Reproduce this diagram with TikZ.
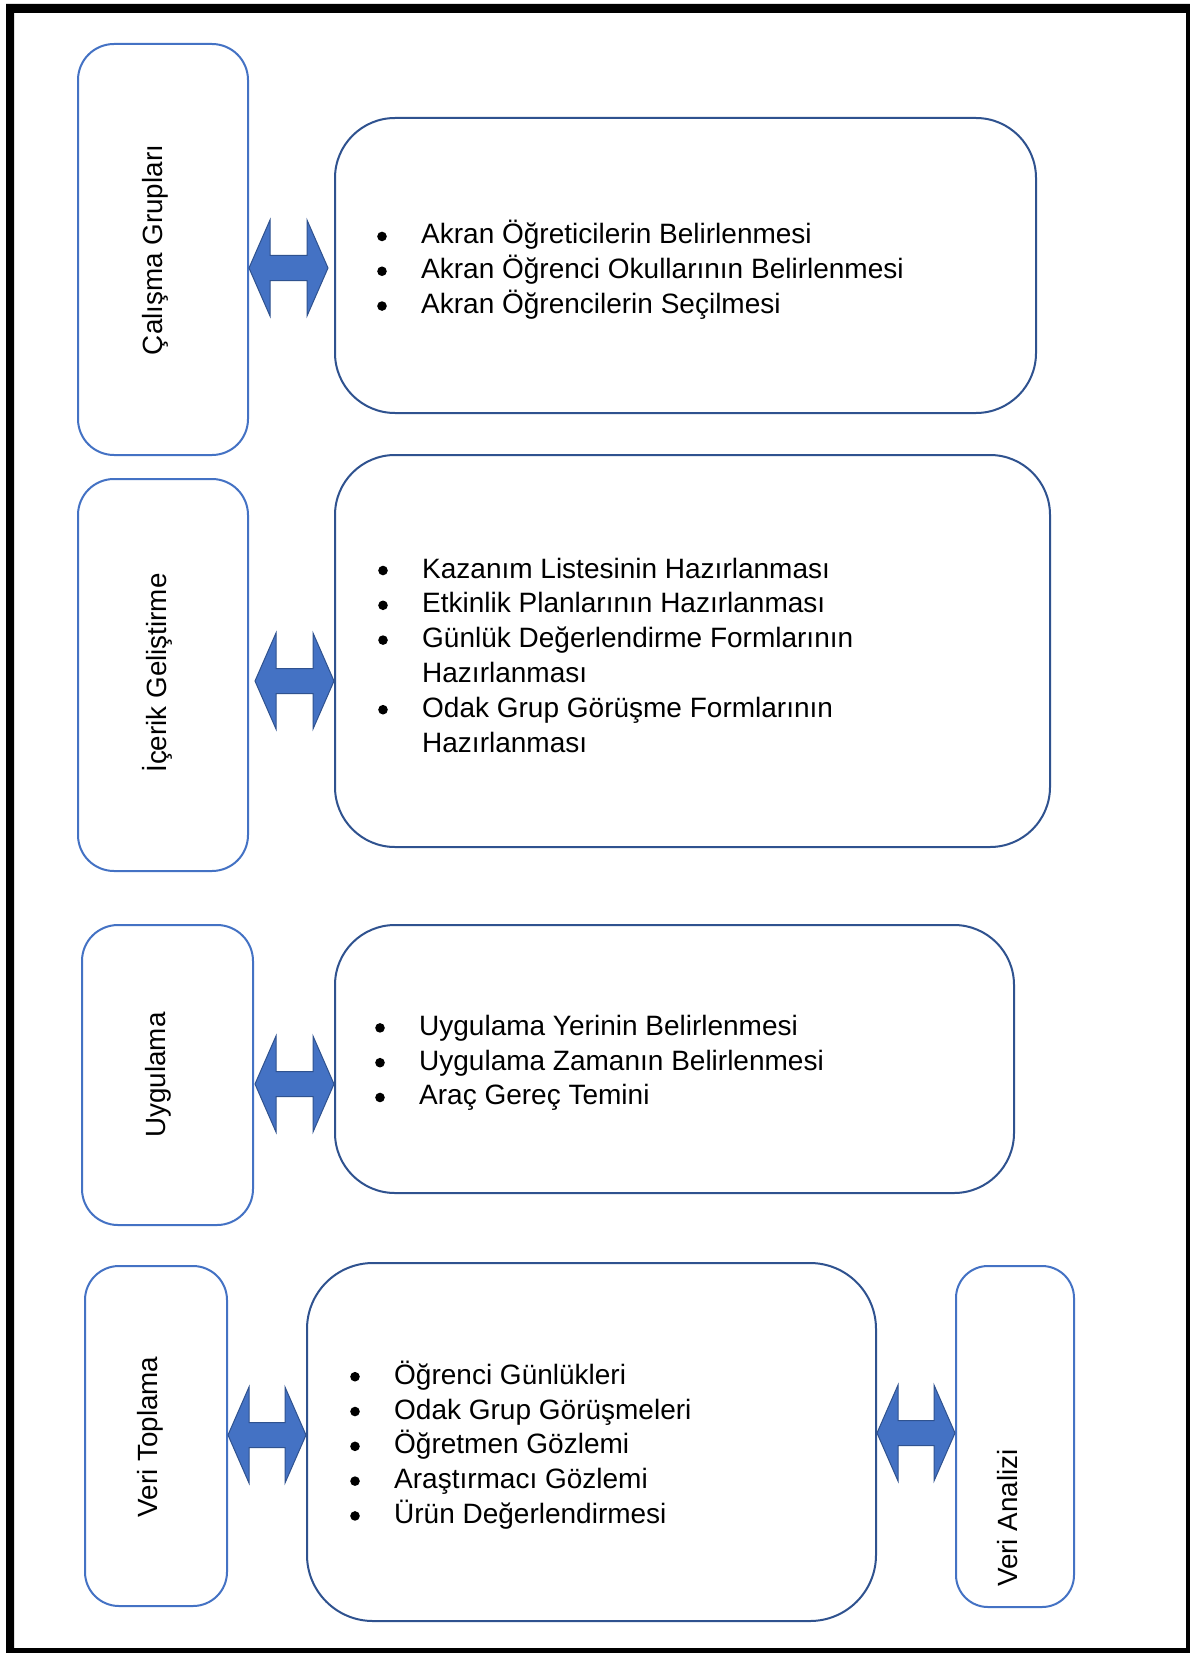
\documentclass[tikz,border=0pt]{standalone}
\usepackage{fontspec}
\setmainfont{Liberation Sans}
\usetikzlibrary{calc}
\definecolor{lblue}{HTML}{4472C4}
\definecolor{dblue}{HTML}{2F528F}
\tikzset{
  lbox/.style={draw=lblue, line width=2pt, rounded corners=36pt, inner sep=0pt, fill=white},
  rbox/.style={draw=dblue, line width=2pt, rounded corners=60pt, inner sep=0pt, fill=white},
  blist/.style={anchor=west, inner sep=0pt, align=left, font=\fontsize{28}{34.8}\selectfont},
  vlabel/.style={rotate=90, inner sep=0pt, font=\fontsize{27.8}{34}\selectfont},
  barrow/.style={fill=lblue, draw=dblue, line width=1pt, line join=miter}
}
\newcommand\bitem{\makebox[44pt][l]{\tikz[baseline=0pt,x=1pt,y=1pt]\fill[black] (0,0) (4.8,7.5) circle (4.8);}}
\newcommand\bskip{\hspace*{44pt}}
% #1 left node, #2 right node, #3 y (px), #4 left offset, #5 right offset
\newcommand\blockarrow[5]{%
  \path[barrow] let \p1=(#1.east), \p2=(#2.west), \p3=(0,#3) in
    (\x1+#4pt,\y3) -- (\x1+#4pt+21pt,\y3+48pt) -- (\x1+#4pt+21pt,\y3+12.5pt)
    -- (\x2+#5pt-21pt,\y3+12.5pt) -- (\x2+#5pt-21pt,\y3+48pt) -- (\x2+#5pt,\y3)
    -- (\x2+#5pt-21pt,\y3-48pt) -- (\x2+#5pt-21pt,\y3-12.5pt)
    -- (\x1+#4pt+21pt,\y3-12.5pt) -- (\x1+#4pt+21pt,\y3-48pt) -- cycle;}
\begin{document}
\begin{tikzpicture}[x=1pt,y=-1pt]
\useasboundingbox (0,0) rectangle (1190,1653);
\fill[white] (0,0) rectangle (1190,1653);
\fill[black, even odd rule] (6,4) rectangle (1194,1657) (14,13) rectangle (1186,1648);

% row 1
\node[lbox, minimum width=170pt, minimum height=411pt] (L1) at (163,249.5) {};
\node[vlabel] (T1) at (155,250) {Çalışma Grupları};
\node[rbox, minimum width=701pt, minimum height=295pt] (R1) at (685.5,265.5) {};
\node[blist] (B1) at (377,270) {\bitem Akran Öğreticilerin Belirlenmesi\\
  \bitem Akran Öğrenci Okullarının Belirlenmesi\\
  \bitem Akran Öğrencilerin Seçilmesi};
\blockarrow{L1}{R1}{268}{0}{-6}

% row 2
\node[lbox, minimum width=170pt, minimum height=392pt] (L2) at (163,675) {};
\node[vlabel] (T2) at (157,673) {İçerik Geliştirme};
\node[rbox, minimum width=715pt, minimum height=392pt] (R2) at (692.5,651) {};
\node[blist] (B2) at (378,655) {\bitem Kazanım Listesinin Hazırlanması\\
  \bitem Etkinlik Planlarının Hazırlanması\\
  \bitem Günlük Değerlendirme Formlarının\\
  \bskip Hazırlanması\\
  \bitem Odak Grup Görüşme Formlarının\\
  \bskip Hazırlanması};
\blockarrow{L2}{R2}{681}{6}{0}

% row 3
\node[lbox, minimum width=171pt, minimum height=300pt] (L3) at (167.5,1075) {};
\node[vlabel] (T3) at (158,1075) {Uygulama};
\node[rbox, minimum width=679pt, minimum height=268pt] (R3) at (674.5,1059) {};
\node[blist] (B3) at (375,1063) {\bitem Uygulama Yerinin Belirlenmesi\\
  \bitem Uygulama Zamanın Belirlenmesi\\
  \bitem Araç Gereç Temini};
\blockarrow{L3}{R3}{1084}{1}{0}

% row 4
\node[lbox, rounded corners=34pt, minimum width=142pt, minimum height=340pt] (L4) at (156,1436) {};
\node[vlabel] (T4) at (150,1437) {Veri Toplama};
\node[rbox, rounded corners=66pt, minimum width=569pt, minimum height=358pt] (R4) at (591.5,1442) {};
\node[blist] (B4) at (350,1445) {\bitem Öğrenci Günlükleri\\
  \bitem Odak Grup Görüşmeleri\\
  \bitem Öğretmen Gözlemi\\
  \bitem Araştırmacı Gözlemi\\
  \bitem Ürün Değerlendirmesi};
\node[lbox, rounded corners=32pt, minimum width=118pt, minimum height=341pt] (R5) at (1015,1436.5) {};
\node[vlabel] (T5) at (1008,1518) {Veri Analizi};
\blockarrow{L4}{R4}{1435}{0}{0}
\blockarrow{R4}{R5}{1433}{0}{0}
\end{tikzpicture}
\end{document}
